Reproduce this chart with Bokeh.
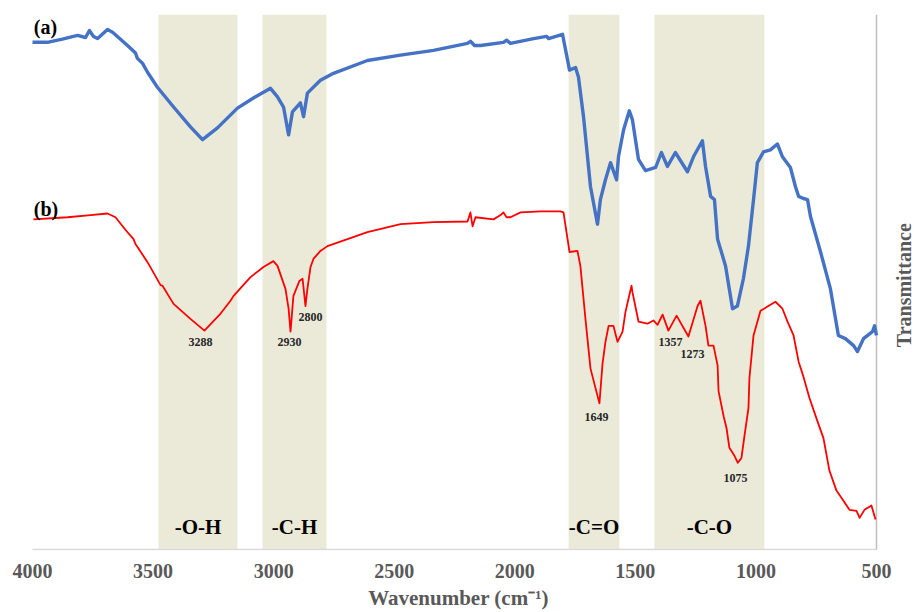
import math
from bokeh.plotting import figure
from bokeh.models import Range1d, FixedTicker, ColumnDataSource
from bokeh.core.properties import value
from bokeh.embed import file_html
from bokeh.resources import INLINE

# ---- data -------------------------------------------------------------
x_ticks = [4000, 3500, 3000, 2500, 2000, 1500, 1000, 500]
x_min, x_max = 500, 4000
t_min, t_max = 0, 100

wn_a = [4000, 3938, 3876, 3813, 3780, 3764, 3747, 3730, 3689, 3668, 3606, 3585, 3573, 3565,
        3544, 3523, 3482, 3415, 3345, 3295, 3233, 3150, 3084, 3013, 2984, 2959, 2938, 2922,
        2889, 2876, 2860, 2806, 2752, 2611, 2474, 2337, 2196, 2184, 2167, 2142, 2047, 2034,
        2018, 1922, 1868, 1860, 1802, 1773, 1748, 1736, 1715, 1686, 1657, 1645, 1624, 1603,
        1578, 1570, 1549, 1525, 1512, 1487, 1458, 1416, 1392, 1367, 1334, 1284, 1259, 1222,
        1209, 1188, 1172, 1159, 1126, 1097, 1077, 1052, 1031, 1010, 994, 969, 940, 911, 890,
        857, 836, 823, 803, 786, 774, 732, 691, 658, 629, 595, 579, 554, 517, 508, 500]
t_a = [94.8, 94.8, 95.4, 96.1, 95.7, 97.0, 95.9, 95.5, 97.2, 96.7, 94.2, 93.3, 92.8, 91.8,
       90.9, 89.2, 86.4, 82.7, 79.0, 76.6, 78.8, 82.5, 84.4, 86.2, 84.6, 82.7, 77.5, 81.8,
       83.5, 80.9, 85.3, 87.7, 89.0, 91.4, 92.4, 93.3, 94.6, 95.0, 94.2, 94.2, 94.8, 95.2,
       94.6, 95.5, 95.9, 95.5, 96.3, 89.6, 90.1, 88.3, 80.9, 67.8, 60.8, 65.4, 69.1, 72.3,
       69.1, 73.4, 78.4, 82.0, 80.3, 72.9, 70.8, 71.4, 74.2, 71.6, 74.2, 70.6, 73.4, 76.4,
       71.6, 66.0, 65.4, 58.0, 53.0, 45.0, 45.5, 50.6, 56.7, 65.4, 72.3, 74.3, 74.7, 75.8, 73.4,
       71.4, 67.8, 66.0, 65.6, 65.4, 62.3, 55.6, 48.7, 40.0, 39.4, 38.1, 37.0, 39.4, 40.7, 41.8, 40.0]

wn_b = [3996, 3855, 3759, 3689, 3656, 3606, 3581, 3573, 3523, 3469, 3461, 3415, 3345, 3287,
        3220, 3179, 3166, 3096, 3042, 3001, 2984, 2951, 2938, 2930, 2918, 2893, 2880, 2868,
        2860, 2847, 2835, 2806, 2777, 2611, 2474, 2337, 2196, 2184, 2175, 2163, 2088, 2059,
        2047, 2034, 2018, 1976, 1893, 1852, 1810, 1798, 1773, 1740, 1728, 1707, 1686, 1649,
        1636, 1624, 1611, 1591, 1574, 1553, 1541, 1516, 1512, 1487, 1450, 1425, 1408, 1387,
        1363, 1329, 1280, 1242, 1230, 1209, 1197, 1176, 1159, 1155, 1134, 1122, 1110, 1089,
        1075, 1060, 1047, 1031, 1027, 1010, 981, 952, 919, 890, 869, 844, 823, 803, 778, 749,
        720, 695, 666, 637, 612, 583, 570, 550, 521, 504]
t_b = [61.7, 62.1, 62.5, 62.8, 62.1, 59.3, 58.0, 57.1, 53.7, 49.4, 49.3, 45.9, 43.1, 40.9,
       44.1, 46.5, 47.4, 50.9, 52.8, 53.9, 53.0, 48.7, 45.0, 40.7, 47.4, 50.2, 50.6, 45.5,
       48.7, 52.8, 54.3, 55.8, 56.7, 59.3, 60.8, 61.2, 61.3, 63.0, 60.4, 62.1, 61.7, 62.5,
       63.0, 62.1, 62.1, 63.0, 63.2, 63.2, 63.2, 63.0, 55.6, 55.8, 53.0, 43.1, 33.8, 27.3,
       34.8, 38.8, 41.8, 41.8, 38.8, 40.7, 44.4, 49.3, 48.1, 42.6, 42.2, 42.8, 42.0, 43.9,
       40.9, 43.7, 39.8, 45.5, 46.5, 41.8, 38.1, 38.1, 34.4, 29.6, 24.9, 22.7, 19.0, 17.5,
       16.2, 17.1, 21.4, 26.4, 32.0, 40.0, 44.6, 45.4, 46.3, 45.0, 42.6, 40.0, 35.1, 32.3, 28.3, 24.5,
       20.8, 14.7, 11.0, 9.1, 7.4, 7.2, 5.9, 7.4, 8.2, 5.6]

band_left = [3477, 3046, 1777, 1421]
band_right = [3150, 2781, 1566, 965]
band_names = ["-O-H", "-C-H", "-C=O", "-C-O"]

peak_labels = ["3288", "2930", "2800", "1649", "1075", "1357", "1273"]
peak_x = [3303, 2934, 2847, 1661, 1085, 1354, 1263]
peak_y = [38.8, 38.8, 43.5, 24.7, 13.4, 38.8, 36.6]

series_names = ["(a)", "(b)"]
series_name_x = [3946, 3944]
series_name_y = [97.6, 63.6]

x_title = "Wavenumber (cm\u207b\u00b9)"
y_title = "Transmittance"

# ---- figure -----------------------------------------------------------
FONT = "Liberation Serif"
GRAY = "#595959"

W, H = 916, 612
PLOT_L, PLOT_R = 32, 876          # pixel extent of the 4000..500 span
upp = (x_max - x_min) / (PLOT_R - PLOT_L)   # wavenumber units per pixel
xr = Range1d(x_max + PLOT_L * upp, x_min - (W - PLOT_R) * upp)

p = figure(width=W, height=H, output_backend="svg", toolbar_location=None,
           x_range=xr, y_range=Range1d(-0.2, 100),
           y_axis_location=None, min_border_left=0, min_border_right=0,
           min_border_top=14, min_border_bottom=60)
p.outline_line_color = None
p.xgrid.grid_line_color = None
p.ygrid.grid_line_color = None
p.background_fill_color = "white"
p.border_fill_color = "white"

xa = p.xaxis[0]
xa.ticker = FixedTicker(ticks=x_ticks)
xa.major_tick_out = 0
xa.major_tick_in = 0
xa.minor_tick_out = 0
xa.minor_tick_in = 0
xa.axis_line_color = None
xa.major_label_text_font = FONT
xa.major_label_text_font_style = "bold"
xa.major_label_text_font_size = "20px"
xa.major_label_text_color = GRAY
xa.major_label_standoff = 13
xa.axis_label = x_title
xa.axis_label_text_font = FONT
xa.axis_label_text_font_style = "bold"
xa.axis_label_text_font_size = "21px"
xa.axis_label_text_color = GRAY
xa.axis_label_standoff = 5

# shaded functional-group bands
bands = ColumnDataSource(dict(left=band_left, right=band_right,
                              bottom=[t_min] * len(band_left), top=[t_max] * len(band_left),
                              name=band_names,
                              xc=[(l + r) / 2 for l, r in zip(band_left, band_right)],
                              yc=[4.1] * len(band_left)))
p.quad(left="left", right="right", bottom="bottom", top="top", source=bands,
       fill_color="#EBEAD9", line_color=None)

# axis frame lines (bottom and right only)
p.segment(x0=[x_max], y0=[t_min], x1=[x_min], y1=[t_min], line_color="#D9D9D9", line_width=1.5)
p.segment(x0=[x_min], y0=[t_min], x1=[x_min], y1=[t_max], line_color="#BFBFBF", line_width=1.5)

p.line(wn_a, t_a, line_color="#4472C4", line_width=3.4, line_join="round")
p.line(wn_b, t_b, line_color="#FF0000", line_width=1.8, line_join="round")

p.text(x="xc", y="yc", text="name", source=bands, text_font=value(FONT),
       text_font_style="bold", text_font_size="21px", text_color="black",
       text_align="center", text_baseline="middle")

p.text(x=peak_x, y=peak_y, text=peak_labels, text_font=value(FONT),
       text_font_style="bold", text_font_size="12px", text_color="#262626",
       text_align="center", text_baseline="middle")

p.text(x=series_name_x, y=series_name_y, text=series_names, text_font=value(FONT),
       text_font_style="bold", text_font_size="20px", text_color="black",
       text_align="center", text_baseline="middle")

# right-hand vertical title, drawn in the area beyond 500 cm-1
p.text(x=[x_min - 27 * upp], y=[49.4], text=[y_title], angle=math.pi / 2,
       text_font=value(FONT), text_font_style="bold", text_font_size="20px",
       text_color=GRAY, text_align="center", text_baseline="middle")

open("out.html", "w").write(file_html(p, INLINE))
